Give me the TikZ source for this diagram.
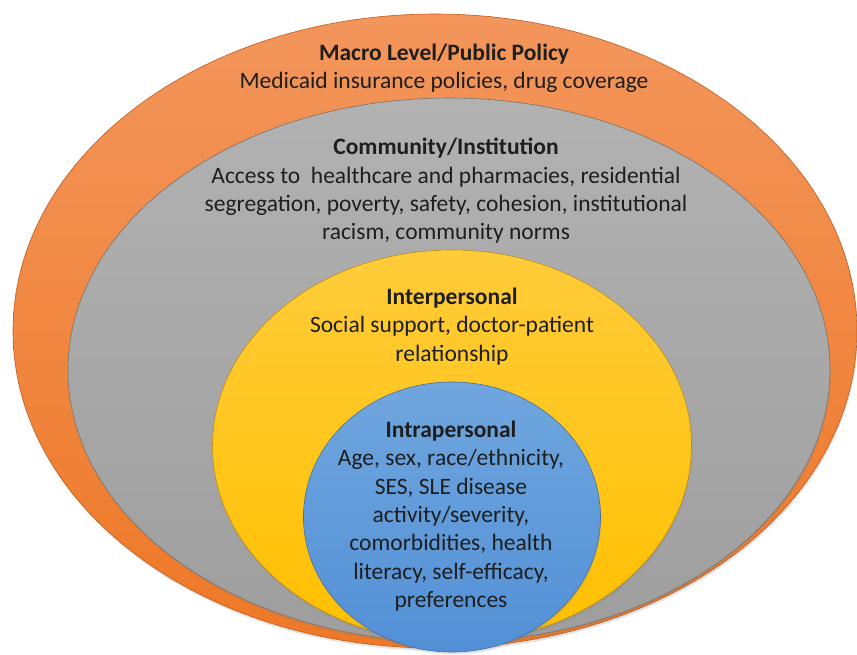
\documentclass[tikz,border=0pt]{standalone}
\usepackage{fontspec}
\setmainfont{Carlito}
\usetikzlibrary{shapes.geometric,shadows}
\definecolor{macrotop}{RGB}{243,150,92}
\definecolor{macrobot}{RGB}{238,120,38}
\definecolor{macroedge}{RGB}{190,90,30}
\definecolor{commtop}{RGB}{178,178,178}
\definecolor{commbot}{RGB}{158,158,158}
\definecolor{commedge}{RGB}{120,115,110}
\definecolor{intertop}{RGB}{255,204,58}
\definecolor{interbot}{RGB}{255,192,0}
\definecolor{interedge}{RGB}{190,140,20}
\definecolor{intratop}{RGB}{112,166,222}
\definecolor{intrabot}{RGB}{82,144,214}
\definecolor{intraedge}{RGB}{70,110,160}
\definecolor{txt}{RGB}{30,30,30}
\tikzset{
    level/.style={ellipse,inner sep=0pt,line width=0.6pt,
                  drop shadow={opacity=0.22,shadow xshift=0.8pt,shadow yshift=-2.5pt}},
    macro/.style={level,draw=macroedge,top color=macrotop,bottom color=macrobot},
    comm/.style={level,draw=commedge,top color=commtop,bottom color=commbot},
    inter/.style={level,draw=interedge,top color=intertop,bottom color=interbot},
    intra/.style={level,draw=intraedge,top color=intratop,bottom color=intrabot},
    lbl/.style={anchor=north,align=center,inner sep=0pt,text=txt,
                font=\fontsize{23.5}{28.3}\selectfont},
}

\begin{document}
\begin{tikzpicture}[x=1pt,y=-1pt]
\useasboundingbox (0,0) rectangle (857,654);

% nested levels, outermost first
\node[macro,minimum width=844pt,minimum height=634pt] (macro) at (435,331) {};
\node[comm, minimum width=762pt,minimum height=544pt] (community) at (449,370) {};
\node[inter,minimum width=479pt,minimum height=392pt] (inter) at (452,446) {};
\node[intra,minimum width=297pt,minimum height=270pt] (intra) at (452,517) {};

% level texts
\node[lbl] (macroTxt) at (444,44) {\textbf{Macro Level/Public Policy}\\
    Medicaid insurance policies, drug coverage};
\node[lbl] (commTxt) at (446,138) {\textbf{Community/Institution}\\
    Access to~ healthcare and pharmacies, residential\\
    segregation, poverty, safety, cohesion, institutional\\
    racism, community norms};
\node[lbl] (interTxt) at (452,288) {\textbf{Interpersonal}\\
    Social support, doctor-patient\\
    relationship};
\node[lbl] (intraTxt) at (451,421) {\textbf{Intrapersonal}\\
    Age, sex, race/ethnicity,\\
    SES, SLE disease\\
    activity/severity,\\
    comorbidities, health\\
    literacy, self-efficacy,\\
    preferences};
\end{tikzpicture}
\end{document}
